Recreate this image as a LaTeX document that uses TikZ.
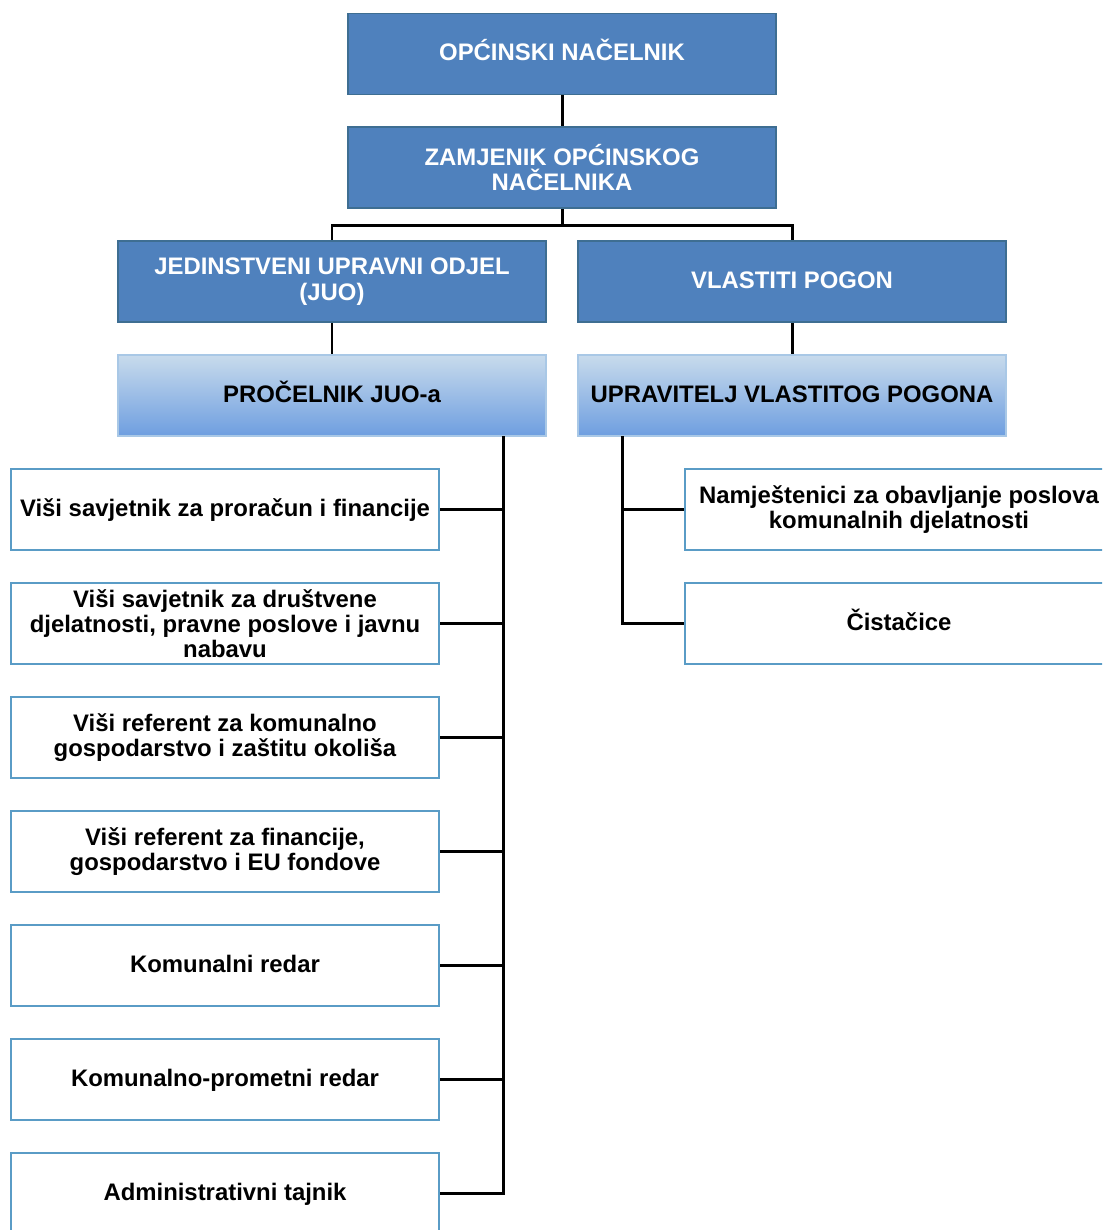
\documentclass[tikz,border=0pt]{standalone}
\usepackage{fontspec}
\setmainfont{Liberation Sans}
\usetikzlibrary{positioning}

\definecolor{headblue}{HTML}{4F81BD}
\definecolor{headedge}{HTML}{3E6E92}
\definecolor{gradtop}{HTML}{C8DBEC}
\definecolor{gradbottom}{HTML}{6E9EE0}
\definecolor{gradedge}{HTML}{A9C8E6}
\definecolor{staffedge}{HTML}{5A9CC6}

\begin{document}
\begin{tikzpicture}[
            x=0.02cm, y=-0.02cm,
            boxfont/.style={font=\bfseries\fontsize{13.6}{14.4}\selectfont},
            oneline/.style={text height=9.7pt, text depth=2.2pt},
            headbox/.style={rectangle, draw=headedge, fill=headblue, line width=1.1pt, text=white,
                minimum width=8.56cm, minimum height=1.62cm, inner sep=0pt, align=center, boxfont},
            chiefbox/.style={rectangle, draw=gradedge, top color=gradtop, bottom color=gradbottom, line width=1.1pt,
                minimum width=8.56cm, minimum height=1.62cm, inner sep=0pt, align=center, boxfont},
            staffbox/.style={rectangle, draw=staffedge, fill=white, line width=1.1pt,
                minimum width=8.56cm, minimum height=1.62cm, inner sep=0pt, align=center, boxfont},
            conn/.style={line width=1.7pt}
        ]
        \clip (0,0) rectangle (1102,1230);

        % Top nodes
        \node[headbox, oneline] (mayor) at (562,54) {OPĆINSKI NAČELNIK};
        \node[headbox] (deputy) at (562,167.5) {ZAMJENIK OPĆINSKOG\\NAČELNIKA};

        % Departments
        \node[headbox] (juo) at (332,281.5) {JEDINSTVENI UPRAVNI ODJEL\\(JUO)};
        \node[headbox, oneline] (plant) at (792,281.5) {VLASTITI POGON};

        % Heads
        \node[chiefbox, oneline] (juohead) at (332,395.5) {PROČELNIK JUO-a};
        \node[chiefbox, oneline] (planthead) at (792,395.5) {UPRAVITELJ VLASTITOG POGONA};

        % Left staff
        \node[staffbox, oneline] (l1) at (225,509.5) {Viši savjetnik za proračun i financije};
        \node[staffbox] (l2) at (225,623.5) {Viši savjetnik za društvene\\djelatnosti, pravne poslove i javnu\\nabavu};
        \node[staffbox] (l3) at (225,737.5) {Viši referent za komunalno\\gospodarstvo i zaštitu okoliša};
        \node[staffbox] (l4) at (225,851.5) {Viši referent za financije,\\gospodarstvo i EU fondove};
        \node[staffbox, oneline] (l5) at (225,965.5) {Komunalni redar};
        \node[staffbox, oneline] (l6) at (225,1079.5) {Komunalno-prometni redar};
        \node[staffbox, oneline] (l7) at (225,1193.5) {Administrativni tajnik};

        % Right staff
        \node[staffbox] (r1) at (899,509.5) {Namještenici za obavljanje poslova\\komunalnih djelatnosti};
        \node[staffbox, oneline] (r2) at (899,623.5) {Čistačice};

        % Edges
        \draw[conn] (mayor) -- (deputy);
        \draw[conn] (deputy.south) -- ++(0,17) coordinate (bus) -| (juo.north);
        \draw[conn] (bus) -| (plant.north);
        \draw[conn] (juo) -- (juohead);
        \draw[conn] (plant) -- (planthead);

        \coordinate (lbus) at (503,436);
        \coordinate (rbus) at (622,436);
        \foreach \i in {1,...,7}
            \draw[conn] (lbus) |- (l\i.east);
        \foreach \i in {1,2}
            \draw[conn] (rbus) |- (r\i.west);

    \end{tikzpicture}
\end{document}
